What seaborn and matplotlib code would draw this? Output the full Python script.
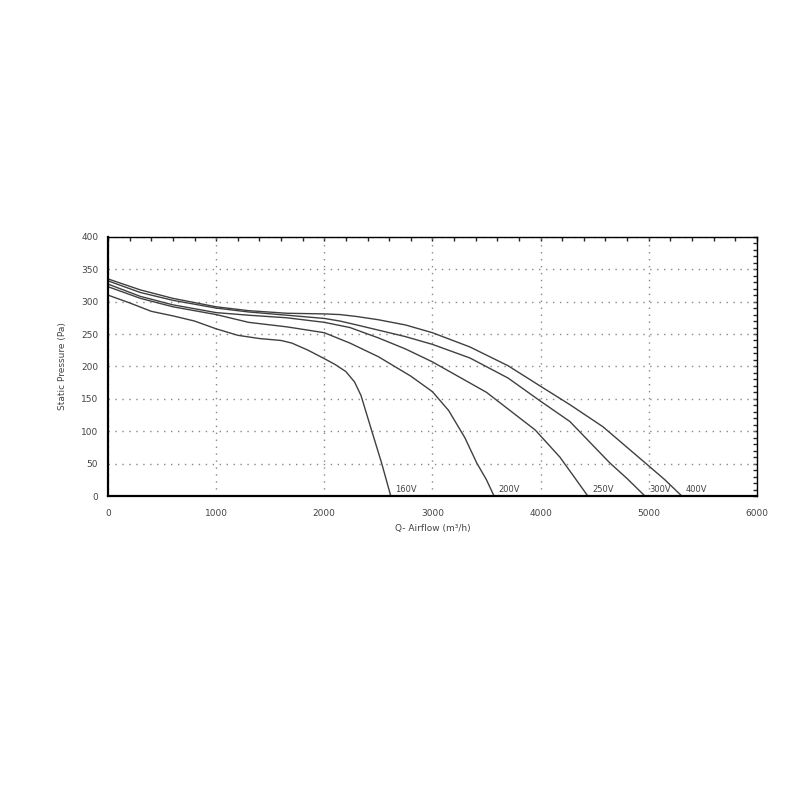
import pandas as pd
import matplotlib
matplotlib.use("Agg")
import matplotlib.pyplot as plt
from matplotlib.ticker import MultipleLocator
import seaborn as sns

# fan curves: airflow (m3/h) vs static pressure (Pa)
v160_q = [0, 200, 400, 600, 800, 1000, 1200, 1400, 1600, 1700, 1850, 2000, 2100, 2200, 2280, 2340, 2440, 2530, 2615]
v160_p = [310, 298, 285, 278, 270, 258, 248, 243, 240, 236, 225, 212, 203, 192, 176, 155, 100, 51, 0]

v200_q = [0, 300, 600, 1000, 1300, 1655, 2000, 2237, 2500, 2800, 3000, 3150, 3300, 3410, 3500, 3570]
v200_p = [323, 305, 292, 280, 268, 261, 252, 236, 215, 185, 161, 132, 90, 51, 25, 0]

v250_q = [0, 300, 600, 1000, 1300, 1655, 2000, 2237, 2500, 2750, 3000, 3500, 3950, 4179, 4300, 4437]
v250_p = [327, 308, 295, 283, 279, 275, 268, 260, 244, 227, 207, 160, 102, 60, 32, 0]

v300_q = [0, 300, 600, 1000, 1300, 1655, 2000, 2145, 2300, 2500, 2750, 3000, 3347, 3700, 3994, 4271, 4641, 4800, 4965]
v300_p = [332, 314, 302, 290, 284, 279, 274, 270, 264, 256, 246, 234, 213, 182, 147, 115, 51, 27, 0]

v400_q = [0, 300, 600, 1000, 1300, 1655, 2000, 2145, 2300, 2500, 2750, 3000, 3347, 3700, 3994, 4271, 4576, 4990, 5150, 5306]
v400_p = [335, 318, 305, 292, 286, 282, 281, 280, 277, 272, 264, 252, 230, 201, 170, 141, 107, 48, 25, 0]

voltages = ["160V", "200V", "250V", "300V", "400V"]
all_q = [v160_q, v200_q, v250_q, v300_q, v400_q]
all_p = [v160_p, v200_p, v250_p, v300_p, v400_p]

frames = []
for name, q, p in zip(voltages, all_q, all_p):
    frames.append(pd.DataFrame({"airflow": q, "pressure": p, "voltage": name}))
df = pd.concat(frames, ignore_index=True)

sns.set_style("white")
plt.rcParams["font.family"] = ["DejaVu Sans"]

fig = plt.figure(figsize=(8, 8), dpi=100)
ax = fig.add_axes([0.135, 0.38, 0.811, 0.324])

sns.lineplot(data=df, x="airflow", y="pressure", hue="voltage", units="voltage",
             estimator=None, sort=False, palette=["#404040"] * 5,
             linewidth=1.0, legend=False, ax=ax)

# curve labels just right of where each curve meets the axis
for name, q in zip(voltages, all_q):
    ax.text(q[-1] + 40, 3, name, fontsize=6, color="#444444", ha="left", va="bottom")

ax.set_xlim(0, 6000)
ax.set_ylim(0, 400)
ax.xaxis.set_major_locator(MultipleLocator(1000))
ax.xaxis.set_minor_locator(MultipleLocator(200))
ax.yaxis.set_major_locator(MultipleLocator(50))
ax.yaxis.set_minor_locator(MultipleLocator(10))

ax.grid(True, which="major", color="#888888", linestyle=(0, (1, 4)), linewidth=1)
ax.tick_params(which="major", direction="inout", length=7, width=1.2, colors="black",
               labelsize=6.5, labelcolor="#444444")
ax.tick_params(which="minor", direction="inout", length=5, width=1, colors="black")
ax.tick_params(axis="x", pad=6)

for side in ["left", "bottom"]:
    ax.spines[side].set_linewidth(1.6)
    ax.spines[side].set_color("black")
for side in ["top", "right"]:
    ax.spines[side].set_linewidth(1.0)
    ax.spines[side].set_color("black")

top = ax.secondary_xaxis("top")
top.xaxis.set_major_locator(MultipleLocator(1000))
top.xaxis.set_minor_locator(MultipleLocator(200))
top.tick_params(which="both", direction="in", length=3, width=1, labeltop=False)
top.spines["top"].set_visible(False)

right = ax.secondary_yaxis("right")
right.yaxis.set_major_locator(MultipleLocator(50))
right.yaxis.set_minor_locator(MultipleLocator(10))
right.tick_params(which="both", direction="in", length=3, width=1, labelright=False)
right.spines["right"].set_visible(False)

ax.set_xlabel("Q- Airflow (m³/h)", fontsize=6.5, color="#444444", labelpad=4)
ax.set_ylabel("Static Pressure (Pa)", fontsize=6.5, color="#444444", labelpad=10)

fig.savefig("out.png", dpi=100, facecolor="white")
